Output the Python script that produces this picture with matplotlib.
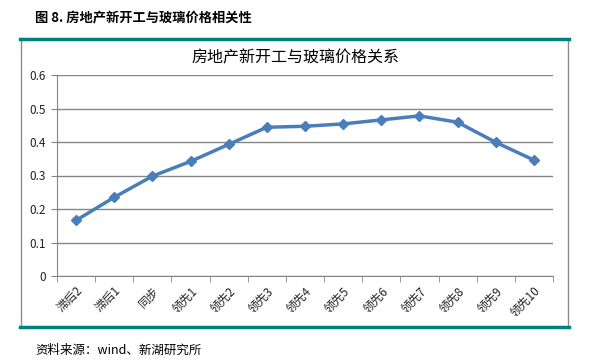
import matplotlib
matplotlib.use("Agg")
import matplotlib.pyplot as plt
from matplotlib.patches import Rectangle
from matplotlib.lines import Line2D

plt.rcParams['font.family'] = ['Noto Sans CJK SC', 'DejaVu Sans']

# data
categories = ["滞后2", "滞后1", "同步", "领先1", "领先2", "领先3", "领先4",
              "领先5", "领先6", "领先7", "领先8", "领先9", "领先10"]
corr = [0.166, 0.235, 0.298, 0.342, 0.393, 0.444, 0.447,
        0.454, 0.466, 0.478, 0.459, 0.399, 0.346]
y_ticks = [0, 0.1, 0.2, 0.3, 0.4, 0.5, 0.6]
y_labels = ["0", "0.1", "0.2", "0.3", "0.4", "0.5", "0.6"]

W, H = 594, 361
fig = plt.figure(figsize=(W / 100, H / 100), dpi=100)

def fx(px):
    return px / W

def fy(py):
    return 1 - py / H

# chart frame: gray sides, teal top/bottom
fig.add_artist(Line2D([fx(21), fx(21)], [fy(39), fy(327)], color="#8c8c8c", lw=1))
fig.add_artist(Line2D([fx(568), fx(568)], [fy(39), fy(327)], color="#8c8c8c", lw=1))
fig.add_artist(Line2D([fx(20), fx(569)], [fy(39), fy(39)], color="#00807f", lw=2.5))
fig.add_artist(Line2D([fx(20), fx(569)], [fy(327), fy(327)], color="#00807f", lw=2.5))

fig.text(fx(35), fy(18), "图 8. 房地产新开工与玻璃价格相关性", fontsize=9.5,
         fontweight="bold", va="center", ha="left")
fig.text(fx(35), fy(350), "资料来源：wind、新湖研究所", fontsize=9,
         va="center", ha="left")
fig.text(fx(295), fy(58), "房地产新开工与玻璃价格关系", fontsize=11.5,
         va="center", ha="center")

ax = fig.add_axes([fx(57), fy(276), fx(553) - fx(57), fy(75) - fy(276)])
x = list(range(len(categories)))
ax.plot(x, corr, color="#4a7ebb", lw=2.5, marker="D", markersize=5,
        markerfacecolor="#4a7ebb", markeredgecolor="#4a7ebb")

ax.set_xlim(-0.5, len(categories) - 0.5)
ax.set_ylim(0, 0.6)
ax.set_yticks(y_ticks)
ax.set_yticklabels(y_labels, fontsize=8.5, color="#222222")
ax.yaxis.grid(True, color="#868686", lw=1)
ax.set_axisbelow(True)

ax.set_xticks(x)
ax.set_xticklabels(categories, rotation=45, ha="right", va="top",
                   rotation_mode="anchor", fontsize=8.5, color="#222222")
ax.tick_params(axis="x", which="major", length=0, pad=6)
ax.set_xticks([i - 0.5 for i in range(len(categories) + 1)], minor=True)
ax.tick_params(axis="x", which="minor", length=4, color="#868686", direction="out")
ax.tick_params(axis="y", length=4, color="#868686", direction="out", pad=4)

for side in ["top", "right"]:
    ax.spines[side].set_visible(False)
ax.spines["left"].set_color("#868686")
ax.spines["bottom"].set_color("#868686")

fig.savefig("out.png", dpi=100)
